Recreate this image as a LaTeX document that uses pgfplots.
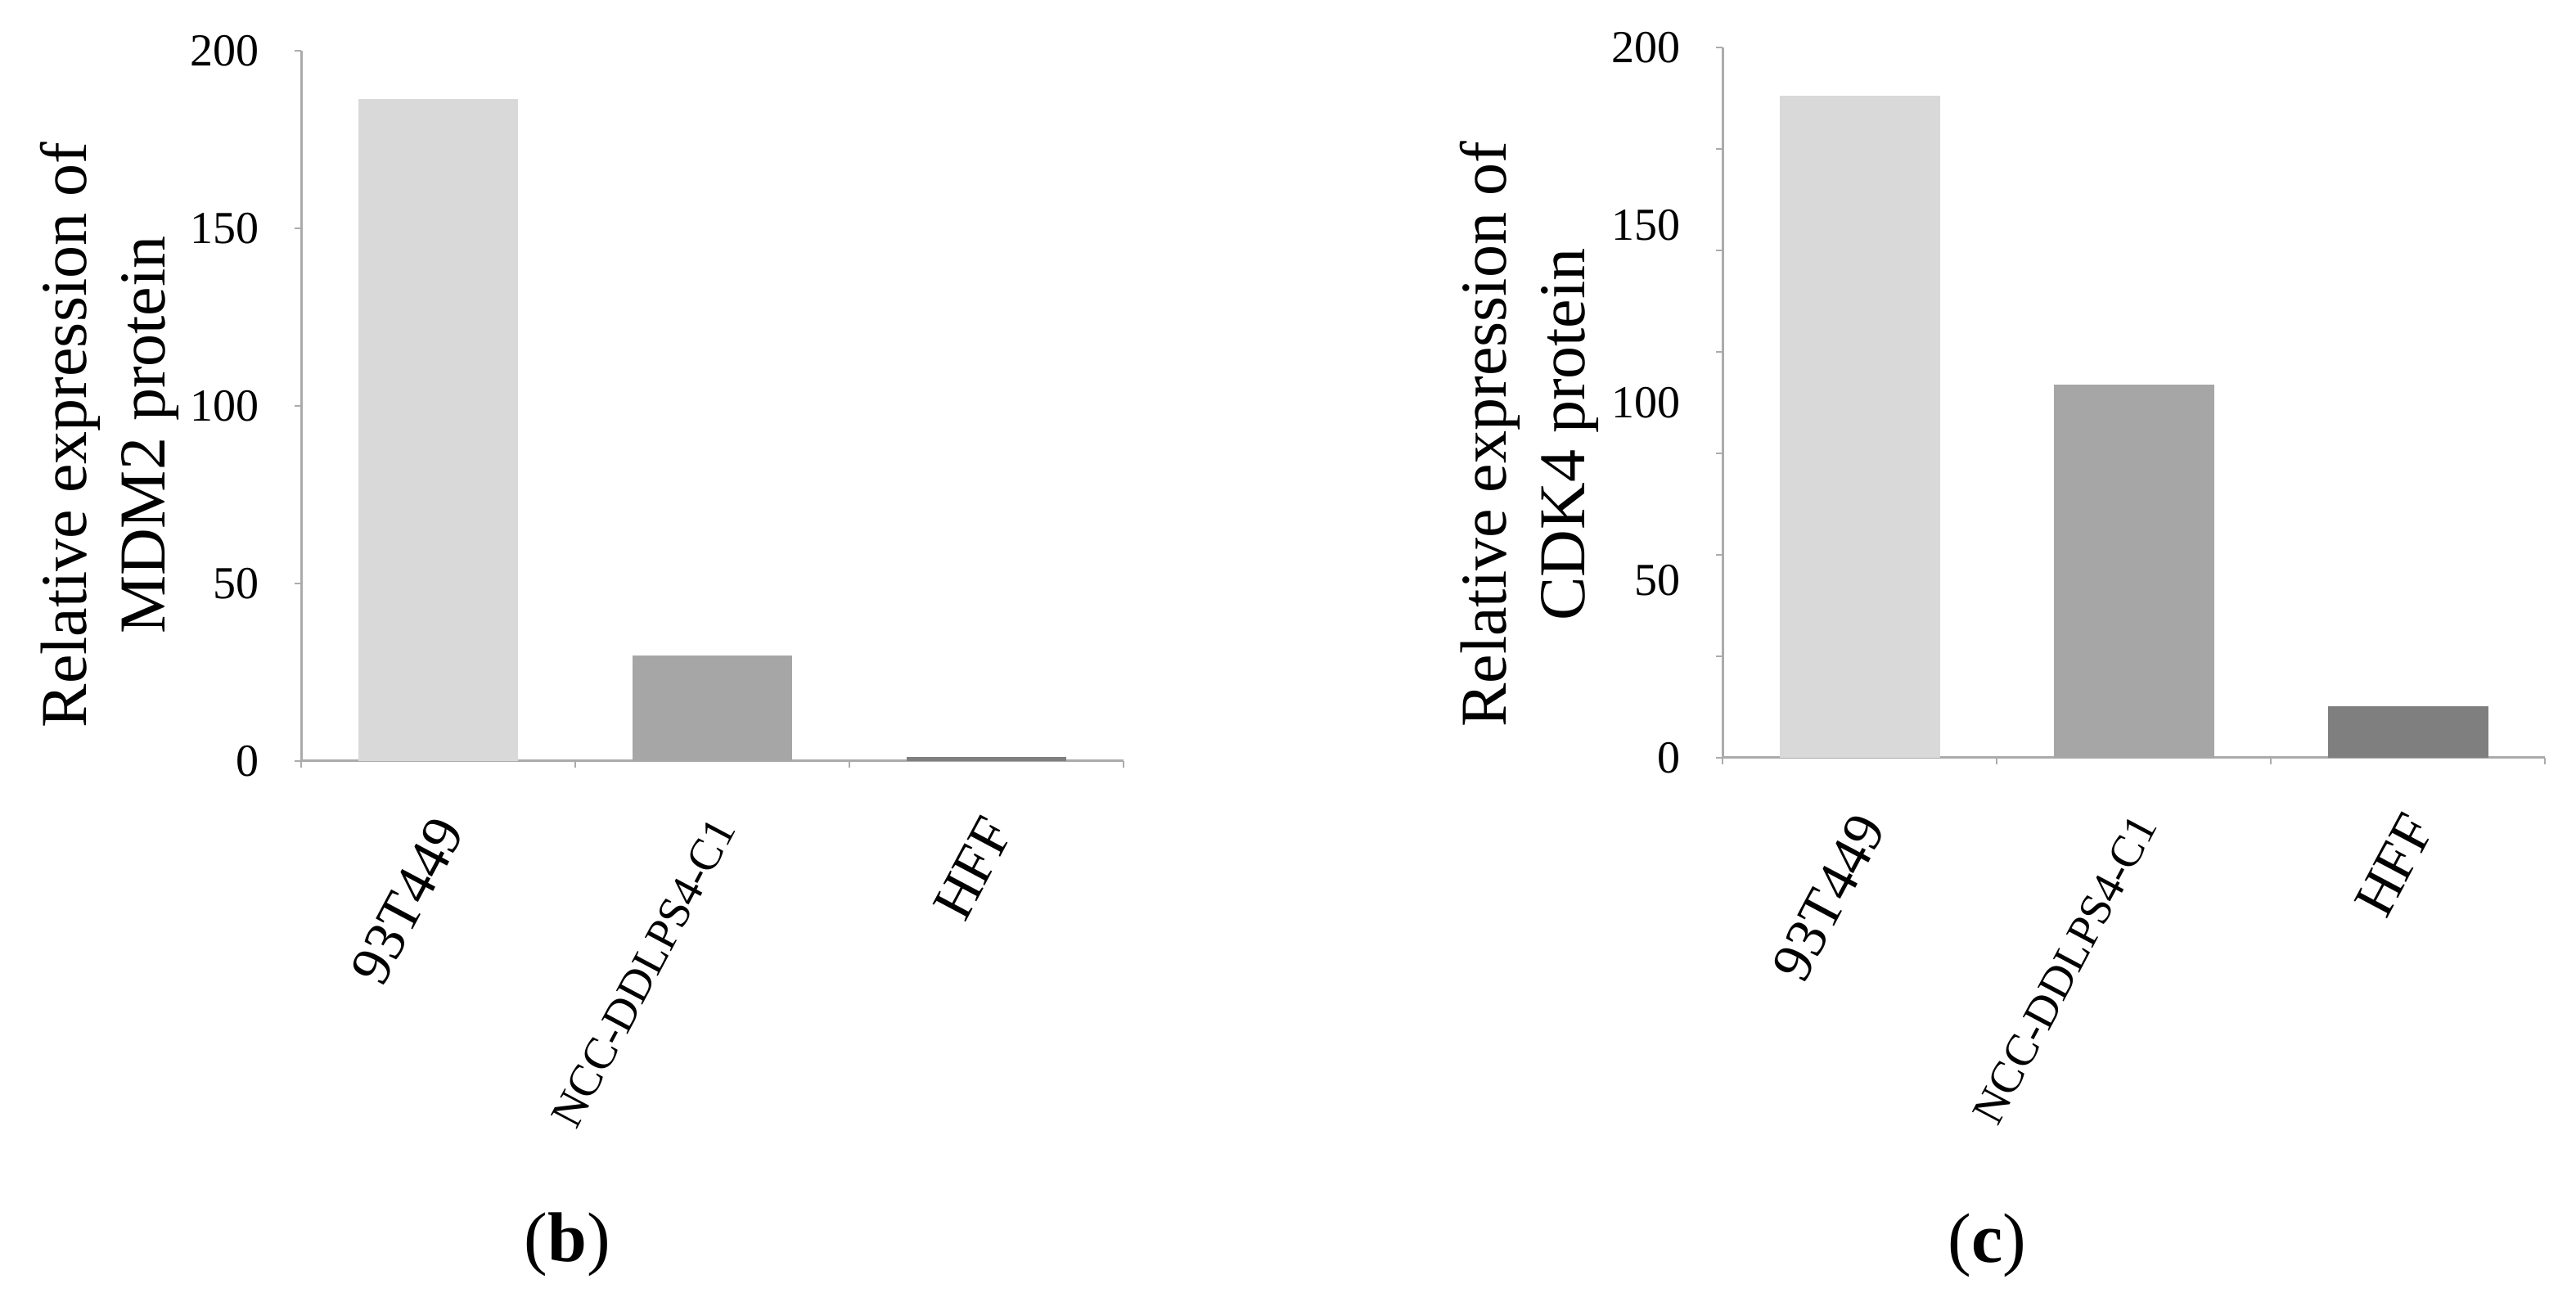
\documentclass[border=0pt]{standalone}
\usepackage{fontspec}
\setmainfont{Liberation Serif}
\usepackage{pgfplots}
\pgfplotsset{compat=1.18}
\definecolor{axgray}{HTML}{ABABAB}
\definecolor{barA}{HTML}{D9D9D9}
\definecolor{barB}{HTML}{A6A6A6}
\definecolor{barC}{HTML}{7F7F7F}
\pgfplotsset{
 chart/.style={
  scale only axis, width=251.25pt, height=217pt,
  xmin=0.5, xmax=3.5, ymin=0, ymax=200,
  axis x line*=bottom, axis y line*=left,
  axis line style={axgray, line width=0.75pt},
  tick align=outside,
  major tick length=0pt, minor tick length=2pt,
  tick style={axgray, line width=0.6pt},
  xtick={1,2,3}, minor xtick={0.5,1.5,2.5,3.5},
  xticklabels={93T449,{\fontsize{13.8}{16}\selectfont NCC-DDLPS4-C1},HFF},
  xticklabel style={font=\fontsize{17.5}{20}\selectfont, inner sep=0pt, xshift=3.5pt, yshift=-18.5pt, rotate=62, anchor=east},
  ytick={0,50,...,200},
  yticklabel style={font=\fontsize{14}{16}\selectfont, inner sep=0pt, anchor=east, xshift=-12.75pt},
  /pgf/number format/assume math mode=true,
  ylabel style={font=\fontsize{20}{24}\selectfont, align=center, inner sep=0pt, anchor=center},
  clip=false,
 },
 bar/.style={ybar, bar width=0.585, bar shift=0pt, draw=none, fill=#1},
}
\begin{document}
\begin{tikzpicture}
\useasboundingbox (0,0) rectangle (787pt,397.75pt);
% (b) MDM2
\begin{axis}[chart, at={(92pt,165.25pt)}, anchor=south west,
  minor ytick={0,50,...,200},
  ylabel={Relative expression of\\MDM2 protein},
  ylabel style={at={(axis description cs:-0.2333,0.459)}}]
\addplot[bar=barA] coordinates {(1,186.4)};
\addplot[bar=barB] coordinates {(2,29.8)};
\addplot[bar=barC] coordinates {(3,1.1)};
\node[font=\fontsize{21.5}{24}\selectfont, anchor=base, inner sep=0pt] at (axis description cs:0.3239,-0.705) {(\textbf{b})};
\end{axis}
% (c) CDK4
\begin{axis}[chart, at={(526.25pt,166.25pt)}, anchor=south west,
  minor ytick={0,28.5714,57.1429,85.7143,114.2857,142.8571,171.4286,200},
  ylabel={Relative expression of\\CDK4 protein},
  ylabel style={at={(axis description cs:-0.2353,0.455)}}]
\addplot[bar=barA] coordinates {(1,186.3)};
\addplot[bar=barB] coordinates {(2,105.1)};
\addplot[bar=barC] coordinates {(3,14.4)};
\node[font=\fontsize{21.5}{24}\selectfont, anchor=base, inner sep=0pt] at (axis description cs:0.3219,-0.7097) {(\textbf{c})};
\end{axis}
\end{tikzpicture}
\end{document}
